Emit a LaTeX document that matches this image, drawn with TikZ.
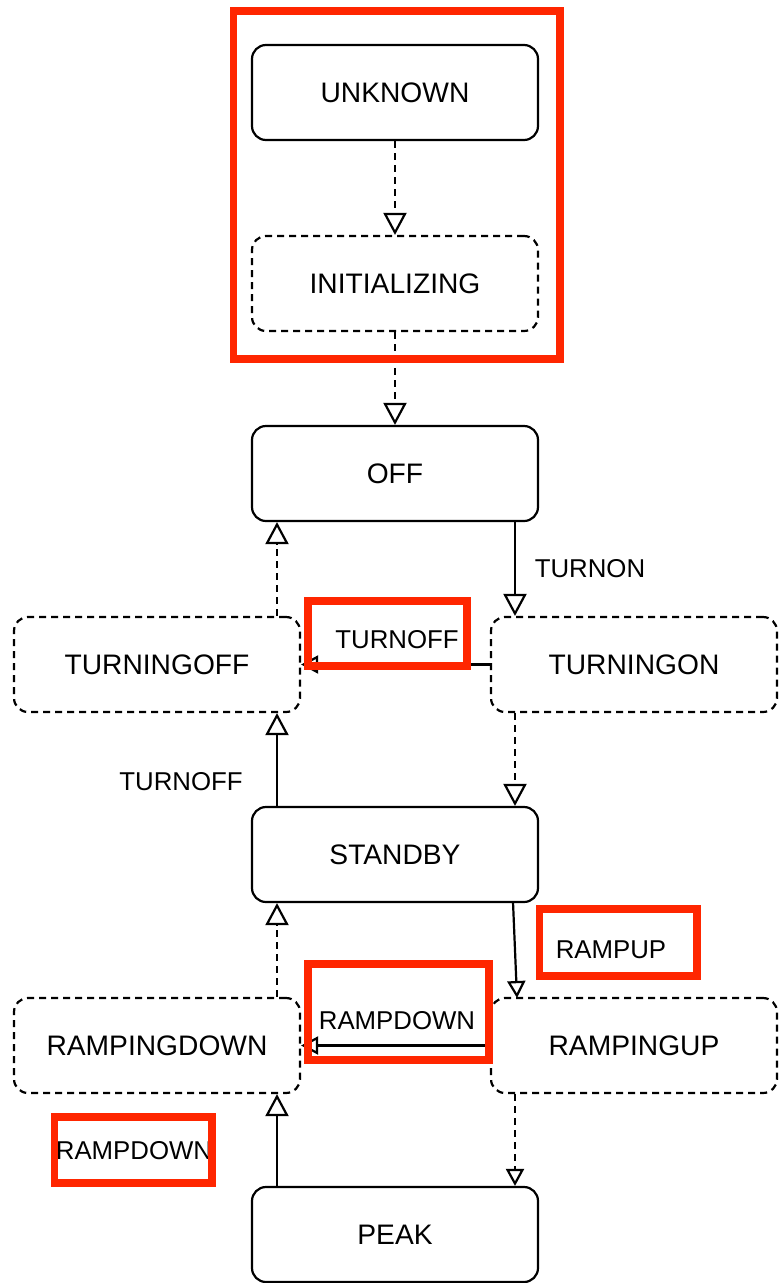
\documentclass[tikz,border=0pt]{standalone}
\usepackage{fontspec}
\setmainfont{Liberation Sans}
\usetikzlibrary{arrows.meta}
\definecolor{hilite}{RGB}{255,38,0}
\tikzset{
  state/.style={draw, rounded corners=14pt, minimum width=286pt, minimum height=95pt,
    line width=2.2pt, inner sep=0pt, font=\fontsize{28.2}{34}\selectfont},
  transient/.style={state, dash pattern=on 7pt off 5pt},
  lbl/.style={inner sep=0pt, font=\fontsize{25.8}{31}\selectfont},
  conn/.style={line width=2.2pt, -{Triangle[open, length=22pt, width=23pt]}},
  connsmall/.style={line width=2.2pt, -{Triangle[open, length=17pt, width=18pt]}},
  dashedconn/.style={dash pattern=on 7pt off 5pt},
  hibox/.style={draw=hilite, line width=7.5pt}
}
\begin{document}
\begin{tikzpicture}[x=1pt, y=-1pt]
  \useasboundingbox (0,0) rectangle (780,1283);

  % reference columns for the vertical connectors
  \coordinate (cL) at (277,0);
  \coordinate (cR) at (515,0);

  % states
  \node[state]     (unk)   at (395,92.5)   {UNKNOWN};
  \node[transient] (init)  at (395,283.5)  {INITIALIZING};
  \node[state]     (off)   at (395,473.5)  {OFF};
  \node[transient] (toff)  at (157,664.5)  {TURNINGOFF};
  \node[transient] (ton)   at (634,664.5)  {TURNINGON};
  \node[state]     (stb)   at (395,854.5)  {STANDBY};
  \node[transient] (rdown) at (157,1045.5) {RAMPINGDOWN};
  \node[transient] (rup)   at (634,1045.5) {RAMPINGUP};
  \node[state]     (peak)  at (395,1234.5) {PEAK};

  % transitions
  \draw[conn, dashedconn] (unk.south) -- (init.north);
  \draw[conn, dashedconn] (init.south) -- (off.north);
  \draw[conn] (off.south -| cR) -- (ton.north -| cR);
  \draw[connsmall] (ton.west) -- (toff.east);
  \draw[conn, dashedconn] (toff.north -| cL) -- (off.south -| cL);
  \draw[conn, dashedconn] (ton.south -| cR) -- (stb.north -| cR);
  \draw[conn] (stb.north -| cL) -- (toff.south -| cL);
  \coordinate (s2r) at (513,902);
  \coordinate (r2s) at (517,998);
  \draw[connsmall] (s2r) -- (r2s);
  \draw[connsmall] (rup.west) -- (rdown.east);
  \draw[conn, dashedconn] (rdown.north -| cL) -- (stb.south -| cL);
  \draw[connsmall, dashedconn] (rup.south -| cR) -- (peak.north -| cR);
  \draw[conn] (peak.north -| cL) -- (rdown.south -| cL);

  % transition labels
  \node[lbl] (lturnon)   at (590,569)  {TURNON};
  \node[lbl] (lturnoff1) at (397,640)  {TURNOFF};
  \node[lbl] (lturnoff2) at (181,782)  {TURNOFF};
  \node[lbl] (lrampup)   at (611,950)  {RAMPUP};
  \node[lbl] (lrampdn1)  at (397,1021) {RAMPDOWN};
  \node[lbl] (lrampdn2)  at (134,1151) {RAMPDOWN};

  % highlight frames
  \draw[hibox] (233.5,11) rectangle (560,359);
  \draw[hibox] (308,601) rectangle (467,666);
  \draw[hibox] (539.5,909) rectangle (697,976);
  \draw[hibox] (308,964) rectangle (489,1060);
  \draw[hibox] (54.5,1117) rectangle (212,1183);
\end{tikzpicture}
\end{document}
